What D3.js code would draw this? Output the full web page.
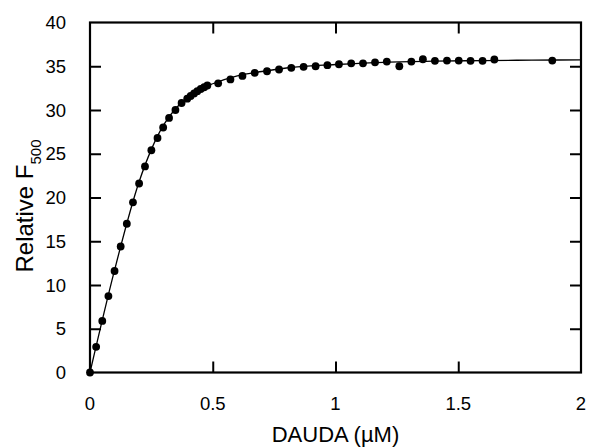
<!DOCTYPE html>
<html>
<head>
<meta charset="utf-8">
<script src="https://cdn.jsdelivr.net/npm/d3@7"></script>
<style>
  html, body { margin: 0; padding: 0; background: #fff; }
  svg { display: block; }
  text { font-family: "Liberation Sans", Arial, Helvetica, sans-serif; fill: #000; }
</style>
</head>
<body>
<svg id="chart" width="589" height="447"></svg>
<script>
// Measured data points
const xData = [0, 0.025, 0.05, 0.075, 0.1, 0.125, 0.15, 0.175, 0.2, 0.224, 0.25, 0.275, 0.298, 0.322, 0.348,
  0.373, 0.396, 0.41, 0.424, 0.437, 0.451, 0.465, 0.478, 0.522, 0.572, 0.621, 0.671, 0.721, 0.77, 0.82, 0.87,
  0.919, 0.967, 1.014, 1.064, 1.112, 1.161, 1.209, 1.26, 1.309, 1.356, 1.405, 1.454, 1.502, 1.55, 1.599, 1.647, 1.883];
const yData = [0, 2.93, 5.9, 8.73, 11.6, 14.4, 17.0, 19.45, 21.6, 23.55, 25.4, 26.8, 28.0, 29.1, 30.0,
  30.8, 31.3, 31.6, 31.9, 32.15, 32.4, 32.6, 32.8, 33.05, 33.5, 33.9, 34.25, 34.43, 34.63, 34.82, 34.93,
  35.0, 35.12, 35.23, 35.34, 35.34, 35.45, 35.53, 35.0, 35.53, 35.8, 35.62, 35.65, 35.65, 35.62, 35.62, 35.77, 35.65];

// Fitted curve
const xFit = [0, 0.1, 0.2, 0.25, 0.3, 0.35, 0.4, 0.45, 0.5, 0.6, 0.7, 0.8, 0.9, 1.0, 1.2, 1.4, 1.6, 1.8, 2.0];
const yFit = [0, 11.7, 21.8, 25.5, 28.3, 30.2, 31.5, 32.4, 33.0, 33.9, 34.4, 34.8, 35.05, 35.2, 35.45, 35.58, 35.65, 35.7, 35.72];

const xTicks = [0, 0.5, 1, 1.5, 2];
const xTickLabels = ["0", "0.5", "1", "1.5", "2"];
const yTicks = [0, 5, 10, 15, 20, 25, 30, 35, 40];

const svg = d3.select("#chart");
const mLeft = 90, mRight = 581, mTop = 22.5, mBottom = 372.5;

const x = d3.scaleLinear().domain([0, 2]).range([mLeft, mRight]);
const y = d3.scaleLinear().domain([0, 40]).range([mBottom, mTop]);

const tickLen = 11;
const inner = xTicks.filter(d => d > 0 && d < 2);
const innerY = yTicks.filter(d => d > 0 && d < 40);

// Axes (ticks inward on all four sides)
const axB = svg.append("g").attr("transform", `translate(0,${mBottom})`)
  .call(d3.axisTop(x).tickValues(inner).tickSize(tickLen).tickFormat(""));
const axT = svg.append("g").attr("transform", `translate(0,${mTop})`)
  .call(d3.axisBottom(x).tickValues(inner).tickSize(tickLen).tickFormat(""));
const axL = svg.append("g").attr("transform", `translate(${mLeft},0)`)
  .call(d3.axisRight(y).tickValues(innerY).tickSize(tickLen).tickFormat(""));
const axR = svg.append("g").attr("transform", `translate(${mRight},0)`)
  .call(d3.axisLeft(y).tickValues(innerY).tickSize(tickLen).tickFormat(""));
[axB, axT, axL, axR].forEach(g => {
  g.select(".domain").remove();
  g.selectAll(".tick line").attr("stroke", "#000").attr("stroke-width", 2);
});

// Frame
svg.append("rect").attr("x", mLeft).attr("y", mTop)
  .attr("width", mRight - mLeft).attr("height", mBottom - mTop)
  .attr("fill", "none").attr("stroke", "#000").attr("stroke-width", 2.2);

// Tick labels
svg.append("g").selectAll("text").data(xTicks).join("text")
  .attr("x", d => x(d)).attr("y", mBottom + 37)
  .attr("text-anchor", "middle").attr("font-size", 18.5)
  .text((d, i) => xTickLabels[i]);
svg.append("g").selectAll("text").data(yTicks).join("text")
  .attr("x", mLeft - 24).attr("y", d => y(d) + 6.5)
  .attr("text-anchor", "end").attr("font-size", 18.5)
  .text(d => d);

// Axis titles
svg.append("text").attr("x", (mLeft + mRight) / 2).attr("y", 442)
  .attr("text-anchor", "middle").attr("font-size", 22)
  .text("DAUDA (\u00B5M)");

const yl = svg.append("text")
  .attr("transform", `translate(33,206) rotate(-90)`)
  .attr("text-anchor", "middle").attr("font-size", 24);
yl.append("tspan").text("Relative F");
yl.append("tspan").attr("font-size", 15).attr("dy", 8).text("500");

// Fitted line
const line = d3.line().x(d => x(d[0])).y(d => y(d[1])).curve(d3.curveMonotoneX);
svg.append("path").datum(xFit.map((v, i) => [v, yFit[i]]))
  .attr("d", line).attr("fill", "none").attr("stroke", "#000").attr("stroke-width", 1.3);

// Points
svg.append("g").selectAll("circle").data(xData.map((v, i) => [v, yData[i]])).join("circle")
  .attr("cx", d => x(d[0])).attr("cy", d => y(d[1])).attr("r", 3.9).attr("fill", "#000");
</script>
</body>
</html>
